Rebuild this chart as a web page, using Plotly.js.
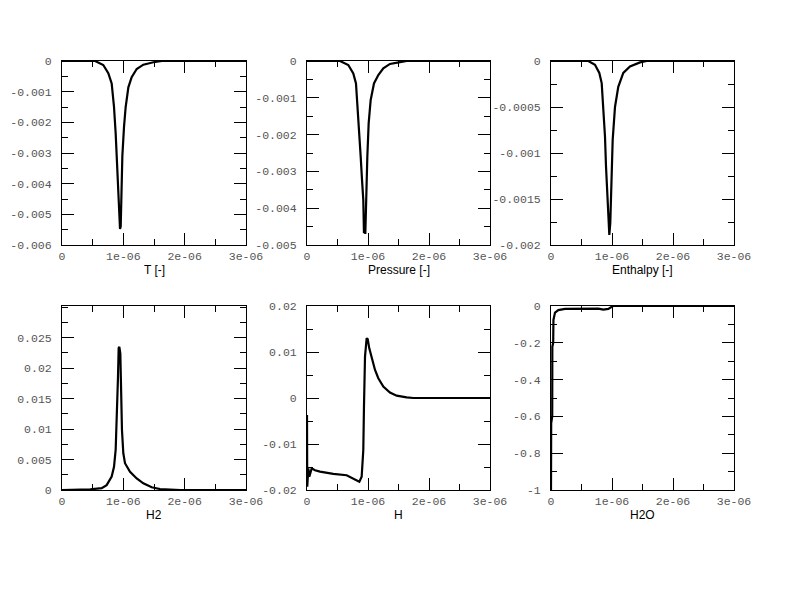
<!DOCTYPE html>
<html>
<head>
<meta charset="utf-8">
<script src="https://cdn.plot.ly/plotly-3.0.1.min.js"></script>
<style>
  html, body { margin: 0; padding: 0; background: #fff; }
  #chart { width: 792px; height: 612px; }
</style>
</head>
<body>
<div id="chart"></div>
<script>
// ── Data ──

const timeTicks = [0, 1e-6, 2e-6, 3e-6];
const timeLabels = ['0', '1e-06', '2e-06', '3e-06'];

// T [-]
const tX = [0, 0.5e-6, 0.54e-6, 0.673e-6, 0.755e-6, 0.81e-6, 0.848e-6, 0.875e-6, 0.892e-6, 0.908e-6,
    0.918e-6, 0.935e-6, 0.946e-6, 0.957e-6, 0.962e-6, 0.984e-6, 1.011e-6, 1.038e-6, 1.082e-6,
    1.136e-6, 1.218e-6, 1.326e-6, 1.49e-6, 1.63e-6, 2e-6, 3e-6];
const tY = [0, 0, 0, -0.00013, -0.0004, -0.00073, -0.0015, -0.00236, -0.00312, -0.00388,
    -0.00475, -0.0054, -0.00548, -0.0054, -0.00475, -0.0031, -0.00215, -0.0015, -0.00086,
    -0.00053, -0.00026, -0.00012, -0.00004, 0, 0, 0];
const tTicks = [0, -0.001, -0.002, -0.003, -0.004, -0.005, -0.006];
const tLabels = ['0', '-0.001', '-0.002', '-0.003', '-0.004', '-0.005', '-0.006'];

// Pressure [-]
const pX = [0, 0.5e-6, 0.541e-6, 0.677e-6, 0.759e-6, 0.803e-6, 0.831e-6, 0.858e-6, 0.88e-6, 0.902e-6,
    0.923e-6, 0.934e-6, 0.945e-6, 0.956e-6, 0.967e-6, 0.989e-6, 1.011e-6, 1.044e-6, 1.098e-6,
    1.169e-6, 1.251e-6, 1.36e-6, 1.525e-6, 1.634e-6, 2e-6, 3e-6];
const pY = [0, 0, 0, -0.00011, -0.00034, -0.00061, -0.00124, -0.00197, -0.0026, -0.00323,
    -0.00378, -0.00468, -0.0042, -0.0047, -0.00369, -0.0026, -0.00169, -0.00106, -0.00061,
    -0.00038, -0.0002, -0.00008, -0.00003, 0, 0, 0];
const pTicks = [0, -0.001, -0.002, -0.003, -0.004, -0.005];
const pLabels = ['0', '-0.001', '-0.002', '-0.003', '-0.004', '-0.005'];

// Enthalpy [-]
const eX = [0, 0.55e-6, 0.612e-6, 0.721e-6, 0.792e-6, 0.831e-6, 0.858e-6, 0.885e-6, 0.902e-6, 0.918e-6,
    0.939e-6, 0.956e-6, 0.972e-6, 0.989e-6, 1.011e-6, 1.049e-6, 1.103e-6, 1.185e-6, 1.295e-6,
    1.459e-6, 1.569e-6, 2e-6, 3e-6];
const eY = [0, 0, 0, -0.00004, -0.00013, -0.00024, -0.0005, -0.00082, -0.00115, -0.0014,
    -0.00176, -0.00189, -0.00176, -0.00137, -0.00086, -0.0005, -0.00028, -0.00013, -0.00006,
    -0.000015, 0, 0, 0];
const eTicks = [0, -0.0005, -0.001, -0.0015, -0.002];
const eLabels = ['0', '-0.0005', '-0.001', '-0.0015', '-0.002'];

// H2
const h2X = [0, 0.45e-6, 0.46e-6, 0.647e-6, 0.728e-6, 0.81e-6, 0.848e-6, 0.875e-6, 0.892e-6, 0.902e-6,
    0.913e-6, 0.924e-6, 0.935e-6, 0.951e-6, 0.962e-6, 0.978e-6, 1e-6, 1.027e-6, 1.109e-6,
    1.218e-6, 1.326e-6, 1.462e-6, 1.598e-6, 1.92e-6, 1.93e-6, 3e-6];
const h2Y = [0, 0, 0.0001, 0.0003, 0.0008, 0.0022, 0.0038, 0.0066, 0.0109, 0.0148,
    0.0186, 0.0233, 0.0235, 0.0224, 0.0164, 0.0098, 0.006, 0.0044, 0.003,
    0.0019, 0.0011, 0.00044, 0.00016, 0.0001, 0, 0];
const h2Ticks = [0, 0.005, 0.01, 0.015, 0.02, 0.025];
const h2Labels = ['0', '0.005', '0.01', '0.015', '0.02', '0.025'];

// H
const hX = [0, 0.004e-6, 0.022e-6, 0.038e-6, 0.077e-6, 0.131e-6, 0.213e-6, 0.431e-6, 0.65e-6, 0.759e-6,
    0.858e-6, 0.896e-6, 0.913e-6, 0.923e-6, 0.934e-6, 0.951e-6, 0.978e-6, 0.995e-6, 1.021e-6,
    1.06e-6, 1.115e-6, 1.169e-6, 1.251e-6, 1.36e-6, 1.47e-6, 1.634e-6, 1.743e-6, 3e-6];
const hY = [-0.0037, -0.0193, -0.0153, -0.0171, -0.0153, -0.0157, -0.016, -0.0165, -0.0168, -0.0175,
    -0.0182, -0.0171, -0.0135, -0.0113, -0.0019, 0.009, 0.013, 0.0128, 0.0108,
    0.0086, 0.0061, 0.0043, 0.0025, 0.0012, 0.0005, 0.00015, 0, 0];
const hTicks = [-0.02, -0.01, 0, 0.01, 0.02];
const hLabels = ['-0.02', '-0.01', '0', '0.01', '0.02'];

// H2O
const wX = [0, 0.003e-6, 0.02e-6, 0.022e-6, 0.036e-6, 0.04e-6, 0.066e-6, 0.12e-6, 0.23e-6, 0.557e-6,
    0.776e-6, 0.858e-6, 0.94e-6, 0.995e-6, 1.02e-6, 3e-6];
const wY = [-1, -0.637, -0.6, -0.221, -0.2, -0.076, -0.036, -0.022, -0.016, -0.0125,
    -0.014, -0.02, -0.016, -0.004, 0, 0];
const wTicks = [-1, -0.8, -0.6, -0.4, -0.2, 0];
const wLabels = ['-1', '-0.8', '-0.6', '-0.4', '-0.2', '0'];

// ── Panels ──

const panels = [
    { x: tX, y: tY, title: 'T [-]', range: [-0.006, 0], ticks: tTicks, labels: tLabels, minor: 0.0005 },
    { x: pX, y: pY, title: 'Pressure [-]', range: [-0.005, 0], ticks: pTicks, labels: pLabels, minor: 0.0005 },
    { x: eX, y: eY, title: 'Enthalpy [-]', range: [-0.002, 0], ticks: eTicks, labels: eLabels, minor: 0.00025 },
    { x: h2X, y: h2Y, title: 'H2', range: [0, 0.0302], ticks: h2Ticks, labels: h2Labels, minor: 0.0025 },
    { x: hX, y: hY, title: 'H', range: [-0.02, 0.02], ticks: hTicks, labels: hLabels, minor: 0.005 },
    { x: wX, y: wY, title: 'H2O', range: [-1, 0], ticks: wTicks, labels: wLabels, minor: 0.1 },
];

// plot boxes in pixels (left, right) and (top, bottom)
const W = 792, H = 612;
const cols = [[62, 246], [307, 490], [551, 734]];
const rows = [[61, 245], [306, 490]];

const baseAxis = {
    showgrid: false,
    zeroline: false,
    showline: true,
    linecolor: '#000',
    linewidth: 1,
    mirror: 'ticks',
    ticks: 'inside',
    ticklen: 12,
    tickwidth: 1,
    tickcolor: '#000',
    tickfont: { family: 'Liberation Mono, Courier New, monospace', size: 11.5, color: '#555' },
    fixedrange: true,
};

const traces = [];
const annotations = [];
const layout = {
    width: W,
    height: H,
    margin: { l: 0, r: 0, t: 0, b: 0 },
    paper_bgcolor: '#fff',
    plot_bgcolor: '#fff',
    showlegend: false,
};

panels.forEach((p, i) => {
    const n = i + 1;
    const sfx = n === 1 ? '' : String(n);
    const col = cols[i % 3];
    const row = rows[Math.floor(i / 3)];

    traces.push({
        x: p.x,
        y: p.y,
        xaxis: 'x' + sfx,
        yaxis: 'y' + sfx,
        type: 'scatter',
        mode: 'lines',
        line: { color: '#000', width: 2.2 },
        hoverinfo: 'skip',
    });

    layout['xaxis' + sfx] = Object.assign({}, baseAxis, {
        domain: [col[0] / W, col[1] / W],
        anchor: 'y' + sfx,
        range: [0, 3e-6],
        tickmode: 'array',
        tickvals: timeTicks,
        ticktext: timeLabels,
        ticklabelstandoff: 0,
        minor: { tickmode: 'linear', tick0: 0, dtick: 0.5e-6, ticks: 'inside', ticklen: 6, tickwidth: 1, tickcolor: '#000' },
    });

    layout['yaxis' + sfx] = Object.assign({}, baseAxis, {
        domain: [1 - row[1] / H, 1 - row[0] / H],
        anchor: 'x' + sfx,
        range: p.range,
        tickmode: 'array',
        tickvals: p.ticks,
        ticktext: p.labels,
        ticklabelstandoff: 7,
        minor: { tickmode: 'linear', tick0: 0, dtick: p.minor, ticks: 'inside', ticklen: 6, tickwidth: 1, tickcolor: '#000' },
    });

    // axis title sits just under the tick labels
    annotations.push({
        text: p.title,
        xref: 'paper',
        yref: 'paper',
        x: (col[0] + col[1]) / 2 / W,
        y: 1 - (row[1] + 25) / H,
        xanchor: 'center',
        yanchor: 'middle',
        showarrow: false,
        font: { family: 'Liberation Sans, Arial, sans-serif', size: 12, color: '#000' },
    });
});

layout.annotations = annotations;

Plotly.newPlot('chart', traces, layout, { displayModeBar: false, responsive: false, staticPlot: true });
</script>
</body>
</html>
